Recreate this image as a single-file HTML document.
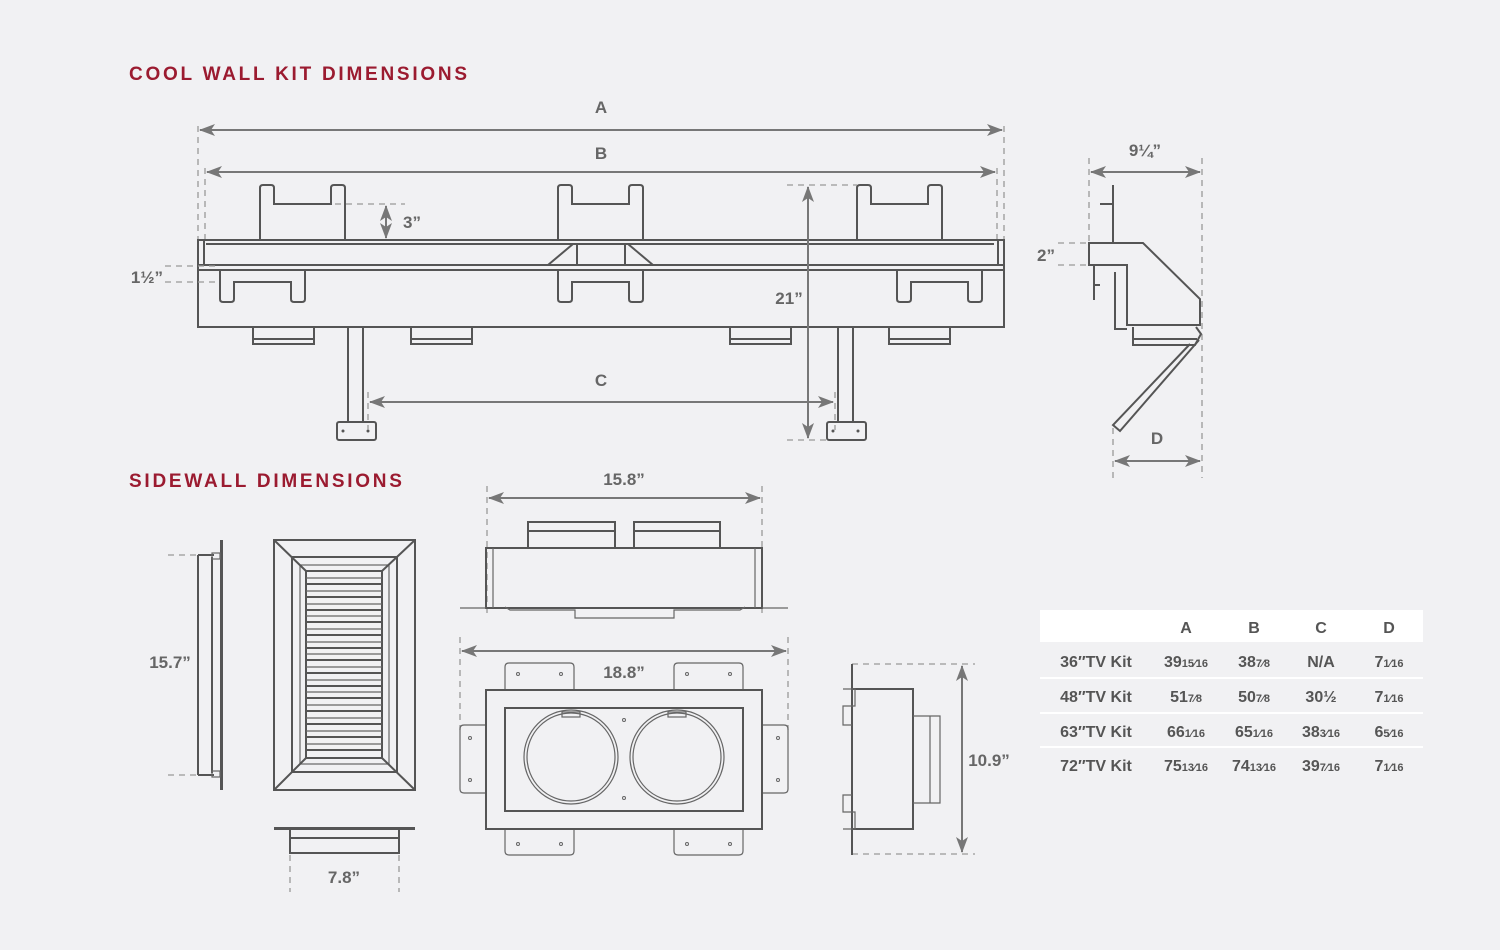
<!DOCTYPE html>
<html><head><meta charset="utf-8"><style>
html,body{margin:0;padding:0;background:#f1f1f3;}
svg{display:block}
.t{font-family:"Liberation Sans",sans-serif;font-weight:bold;fill:#666;font-size:17px;text-anchor:middle}
.h{font-family:"Liberation Sans",sans-serif;font-weight:bold;fill:#9b1b30;font-size:19px;letter-spacing:2.75px}
.tb{font-family:"Liberation Sans","DejaVu Sans",sans-serif;font-weight:bold;fill:#555;font-size:16px;text-anchor:middle}
.s{fill:none;stroke:#555;stroke-width:2}
.th{fill:none;stroke:#666;stroke-width:1.2}
.d{fill:none;stroke:#999;stroke-width:1.3;stroke-dasharray:6 5}
.a{fill:none;stroke:#777;stroke-width:2;marker-start:url(#m);marker-end:url(#m)}
</style></head><body>
<svg width="1500" height="950" viewBox="0 0 1500 950" xmlns="http://www.w3.org/2000/svg">
<defs><marker id="m" viewBox="0 0 16 12" refX="15" refY="6" markerWidth="16" markerHeight="12" markerUnits="userSpaceOnUse" orient="auto-start-reverse"><path d="M0,0 L16,6 L0,12 L4,6Z" fill="#777"/></marker></defs>
<rect width="1500" height="950" fill="#f1f1f3"/>
<text class="h" x="129" y="80">COOL WALL KIT DIMENSIONS</text>
<text class="h" x="129" y="487">SIDEWALL DIMENSIONS</text>

<g>
<line class="d" x1="198" y1="126" x2="198" y2="240"/><line class="d" x1="1004" y1="126" x2="1004" y2="240"/>
<line class="d" x1="205" y1="168" x2="205" y2="240"/><line class="d" x1="997" y1="168" x2="997" y2="240"/>
<line class="a" x1="200" y1="130" x2="1002" y2="130"/>
<line class="a" x1="207" y1="172" x2="995" y2="172"/>
<text class="t" x="601" y="113">A</text><text class="t" x="601" y="159">B</text>
<rect class="s" x="198" y="240" width="806" height="87"/>
<path class="s" d="M206,244 H994 M198,265 H1004 M198,270 H1004 M204,240 V265 M998,240 V265"/>
<path class="s" d="M260,240 V188 Q260,185 263,185 H271 Q274,185 274,188 V204 H331 V188 Q331,185 334,185 H342 Q345,185 345,188 V240"/>
<path class="s" d="M558,240 V188 Q558,185 561,185 H569 Q572,185 572,188 V204 H629 V188 Q629,185 632,185 H640 Q643,185 643,188 V240"/>
<path class="s" d="M857,240 V188 Q857,185 860,185 H868 Q871,185 871,188 V204 H928 V188 Q928,185 931,185 H939 Q942,185 942,188 V240"/>
<path class="s" d="M220,270 V299 Q220,302 223,302 H231 Q234,302 234,299 V282 H291 V299 Q291,302 294,302 H302 Q305,302 305,299 V270"/>
<path class="s" d="M558,270 V299 Q558,302 561,302 H569 Q572,302 572,299 V282 H629 V299 Q629,302 632,302 H640 Q643,302 643,299 V270"/>
<path class="s" d="M897,270 V299 Q897,302 900,302 H908 Q911,302 911,299 V282 H968 V299 Q968,302 971,302 H979 Q982,302 982,299 V270"/>
<path class="s" d="M548,265 L573,244 M653,265 L628,244 M577,244 V265 M625,244 V265"/>
<path class="s" d="M253,327 V344 H314 V327 M253,339 H314 M411,327 V344 H472 V327 M411,339 H472 M730,327 V344 H791 V327 M730,339 H791 M889,327 V344 H950 V327 M889,339 H950"/>
<path class="s" d="M348,327 V423 M363,327 V423 M838,327 V423 M853,327 V423"/>
<rect class="s" x="337" y="422" width="39" height="18" rx="2"/><rect class="s" x="827" y="422" width="39" height="18" rx="2"/>
<circle cx="343" cy="431" r="1.5" fill="#555"/><circle cx="368" cy="431" r="1.5" fill="#555"/>
<circle cx="833" cy="431" r="1.5" fill="#555"/><circle cx="858" cy="431" r="1.5" fill="#555"/>
<line class="d" x1="335" y1="204" x2="405" y2="204"/>
<line class="a" x1="386" y1="206" x2="386" y2="238"/>
<text class="t" x="412" y="228">3”</text>
<line class="d" x1="165" y1="266" x2="220" y2="266"/><line class="d" x1="165" y1="282" x2="220" y2="282"/>
<text class="t" x="147" y="283">1½”</text>
<line class="d" x1="787" y1="185" x2="857" y2="185"/><line class="d" x1="787" y1="440" x2="827" y2="440"/>
<line class="a" x1="808" y1="187" x2="808" y2="438"/>
<text class="t" x="789" y="304">21”</text>
<line class="d" x1="368" y1="392" x2="368" y2="430"/><line class="d" x1="835" y1="392" x2="835" y2="430"/>
<line class="a" x1="370" y1="402" x2="833" y2="402"/>
<text class="t" x="601" y="386">C</text>
</g>

<g>
<line class="d" x1="1089" y1="158" x2="1089" y2="245"/><line class="d" x1="1202" y1="158" x2="1202" y2="478"/>
<line class="d" x1="1113" y1="428" x2="1113" y2="478"/>
<line class="a" x1="1091" y1="172" x2="1200" y2="172"/>
<text class="t" x="1145" y="156">9¼”</text>
<path class="s" d="M1113,185 V243 M1100,204 H1113"/>
<path class="s" d="M1089,243 H1143 L1200,299 V325 H1127 V265 H1089 Z"/>
<path class="s" d="M1115,272 V329 H1127 M1094,265 V300 M1094,285 H1100"/>
<path class="s" d="M1133,327 V345 H1195 L1201,334 L1196,327 M1133,339 H1197"/>
<path class="s" d="M1190,344 L1113,425 L1120,431 L1199,340"/>
<line class="d" x1="1058" y1="243" x2="1089" y2="243"/><line class="d" x1="1058" y1="265" x2="1089" y2="265"/>
<text class="t" x="1046" y="261">2”</text>
<line class="a" x1="1115" y1="461" x2="1200" y2="461"/>
<text class="t" x="1157" y="444">D</text>
</g>

<g>
<line class="d" x1="168" y1="555" x2="198" y2="555"/><line class="d" x1="168" y1="775" x2="198" y2="775"/>
<path class="s" d="M198,555 V775 M212,557 V773 M198,555 H214 M198,775 H214"/>
<rect x="220" y="540" width="3" height="250" fill="#555"/>
<rect class="th" x="212" y="553" width="8" height="6"/><rect class="th" x="212" y="771" width="8" height="6"/>
<text class="t" x="170" y="668">15.7”</text>
</g>
<g>
<rect class="s" x="274" y="540" width="141" height="250"/>
<rect class="s" x="292" y="557" width="105" height="215"/>
<rect class="th" x="300" y="565" width="89" height="199"/>
<rect class="s" x="306" y="571" width="76" height="187"/>
<path class="s" d="M274,540 L306,571 M415,540 L382,571 M274,790 L306,758 M415,790 L382,758"/>
<path class="s" d="M306,584 H382 M306,597 H382 M306,610 H382 M306,622 H382 M306,635 H382 M306,648 H382 M306,660 H382 M306,673 H382 M306,686 H382 M306,698 H382 M306,711 H382 M306,724 H382 M306,737 H382 M306,750 H382"/>
<path class="th" d="M306,578 H382 M306,591 H382 M306,604 H382 M306,616 H382 M306,629 H382 M306,642 H382 M306,654 H382 M306,667 H382 M306,680 H382 M306,692 H382 M306,705 H382 M306,718 H382 M306,731 H382 M306,744 H382"/>
</g>
<g>
<rect x="274" y="827" width="141" height="3" fill="#555"/>
<path class="s" d="M290,830 V853 H399 V830 M290,838 H399"/>
<line class="d" x1="290" y1="855" x2="290" y2="892"/><line class="d" x1="399" y1="855" x2="399" y2="892"/>
<text class="t" x="344" y="883">7.8”</text>
</g>

<g>
<line class="d" x1="487" y1="486" x2="487" y2="615"/><line class="d" x1="762" y1="486" x2="762" y2="615"/>
<line class="a" x1="489" y1="498" x2="760" y2="498"/>
<text class="t" x="624" y="485">15.8”</text>
<path class="s" d="M528,548 V522 H615 V548 M528,531 H615 M634,548 V522 H720 V548 M634,531 H720"/>
<rect class="s" x="486" y="548" width="276" height="60"/>
<path class="th" d="M493,548 V608 M755,548 V608"/>
<path class="th" d="M460,608 H486 M762,608 H788 M505,607 L510,610 H575 V618 H674 V610 H740 L745,607"/>
</g>
<g>
<line class="d" x1="460" y1="637" x2="460" y2="730"/><line class="d" x1="788" y1="637" x2="788" y2="730"/>
<line class="a" x1="462" y1="651" x2="786" y2="651"/>
<text class="t" x="624" y="678">18.8”</text>
<path class="th" d="M505,690 V667 Q505,663 509,663 H570 Q574,663 574,667 V690 M674,690 V667 Q674,663 678,663 H739 Q743,663 743,667 V690"/>
<path class="th" d="M505,829 V851 Q505,855 509,855 H570 Q574,855 574,851 V829 M674,829 V851 Q674,855 678,855 H739 Q743,855 743,851 V829"/>
<path class="th" d="M486,725 H464 Q460,725 460,729 V789 Q460,793 464,793 H486 M762,725 H784 Q788,725 788,729 V789 Q788,793 784,793 H762"/>
<rect class="s" x="486" y="690" width="276" height="139"/>
<rect class="s" x="505" y="708" width="238" height="103"/>
<circle class="th" cx="571" cy="757" r="47"/><circle class="th" cx="571" cy="757" r="44"/>
<circle class="th" cx="677" cy="757" r="47"/><circle class="th" cx="677" cy="757" r="44"/>
<rect class="th" x="562" y="712" width="18" height="5"/><rect class="th" x="668" y="712" width="18" height="5"/>
<g fill="none" stroke="#666" stroke-width="1">
<circle cx="518" cy="674" r="1.5"/><circle cx="561" cy="674" r="1.5"/><circle cx="687" cy="674" r="1.5"/><circle cx="730" cy="674" r="1.5"/>
<circle cx="518" cy="844" r="1.5"/><circle cx="561" cy="844" r="1.5"/><circle cx="687" cy="844" r="1.5"/><circle cx="730" cy="844" r="1.5"/>
<circle cx="470" cy="738" r="1.5"/><circle cx="470" cy="780" r="1.5"/><circle cx="778" cy="738" r="1.5"/><circle cx="778" cy="780" r="1.5"/>
<circle cx="624" cy="720" r="1.5"/><circle cx="624" cy="798" r="1.5"/>
</g>
</g>
<g>
<line class="d" x1="852" y1="664" x2="975" y2="664"/><line class="d" x1="852" y1="854" x2="975" y2="854"/>
<path class="s" d="M852,664 V855"/>
<path class="s" d="M852,689 H913 V829 H852"/>
<path class="th" d="M843,689 H855 V706 H843 V725 H852 M852,795 H843 V812 H855 V829 H843"/>
<path class="th" d="M913,716 H940 V803 H913 M930,716 V803"/>
<line class="a" x1="962" y1="666" x2="962" y2="852"/>
<text class="t" x="989" y="766">10.9”</text>
</g>

<rect x="1040" y="610" width="383" height="32" fill="#fff"/>
<rect x="1040" y="677" width="383" height="2" fill="#fff"/>
<rect x="1040" y="712" width="383" height="2" fill="#fff"/>
<rect x="1040" y="746" width="383" height="2" fill="#fff"/>
<g class="tb">
<text x="1186" y="633">A</text><text x="1254" y="633">B</text><text x="1321" y="633">C</text><text x="1389" y="633">D</text>
<text x="1096" y="667">36″TV Kit</text><text x="1096" y="702">48″TV Kit</text><text x="1096" y="737">63″TV Kit</text><text x="1096" y="771">72″TV Kit</text>
<text x="1186" y="667">39<tspan font-size="11">15⁄16</tspan></text><text x="1254" y="667">38<tspan font-size="11">7⁄8</tspan></text><text x="1321" y="667">N/A</text><text x="1389" y="667">7<tspan font-size="11">1⁄16</tspan></text>
<text x="1186" y="702">51<tspan font-size="11">7⁄8</tspan></text><text x="1254" y="702">50<tspan font-size="11">7⁄8</tspan></text><text x="1321" y="702">30½</text><text x="1389" y="702">7<tspan font-size="11">1⁄16</tspan></text>
<text x="1186" y="737">66<tspan font-size="11">1⁄16</tspan></text><text x="1254" y="737">65<tspan font-size="11">1⁄16</tspan></text><text x="1321" y="737">38<tspan font-size="11">3⁄16</tspan></text><text x="1389" y="737">6<tspan font-size="11">5⁄16</tspan></text>
<text x="1186" y="771">75<tspan font-size="11">13⁄16</tspan></text><text x="1254" y="771">74<tspan font-size="11">13⁄16</tspan></text><text x="1321" y="771">39<tspan font-size="11">7⁄16</tspan></text><text x="1389" y="771">7<tspan font-size="11">1⁄16</tspan></text>
</g>
</svg>
</body></html>
